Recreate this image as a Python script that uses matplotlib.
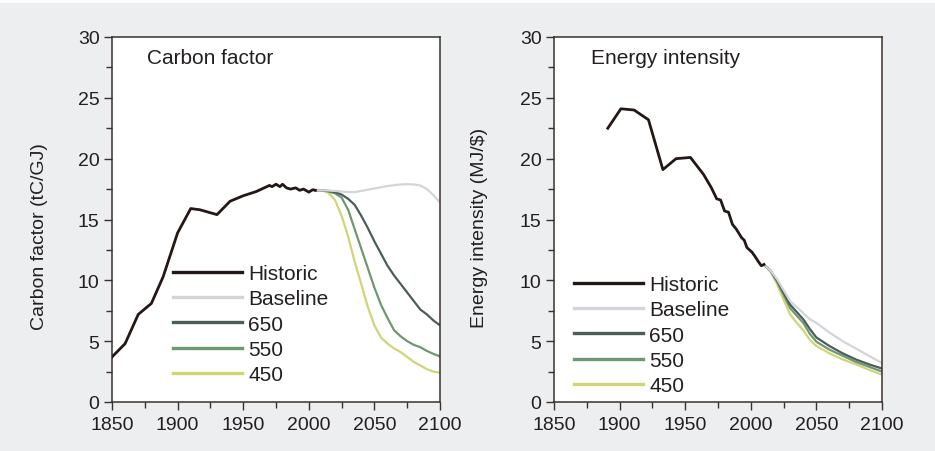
import matplotlib.pyplot as plt
import matplotlib.patches as mpatches
from matplotlib.ticker import MultipleLocator

plt.rcParams['font.family'] = ['Liberation Sans', 'DejaVu Sans']

# Carbon factor (tC/GJ)
cf_hist_years = [1850, 1860, 1870, 1880, 1889, 1900, 1910, 1917, 1930, 1940, 1950, 1960,
                 1970, 1972, 1975, 1978, 1980, 1983, 1986, 1990, 1993, 1996, 2000, 2003, 2005]
cf_hist = [3.7, 4.8, 7.2, 8.1, 10.3, 13.9, 15.9, 15.8, 15.4, 16.5, 16.95, 17.3,
           17.8, 17.7, 17.9, 17.7, 17.9, 17.6, 17.5, 17.6, 17.4, 17.5, 17.25, 17.45, 17.4]
cf_scen_years = [2005, 2010, 2015, 2020, 2025, 2030, 2035, 2040, 2045, 2050, 2055, 2060,
                 2065, 2070, 2075, 2080, 2085, 2090, 2095, 2100]
cf_baseline = [17.4, 17.4, 17.38, 17.35, 17.3, 17.25, 17.25, 17.35, 17.45, 17.55, 17.65, 17.75,
               17.82, 17.88, 17.9, 17.88, 17.8, 17.5, 17.0, 16.4]
cf_650 = [17.4, 17.4, 17.35, 17.25, 17.05, 16.7, 16.2, 15.3, 14.3, 13.2, 12.2, 11.2,
          10.4, 9.7, 9.0, 8.3, 7.6, 7.2, 6.7, 6.3]
cf_550 = [17.4, 17.4, 17.3, 17.15, 16.8, 15.8, 14.2, 12.6, 11.0, 9.4, 8.0, 6.9,
          5.9, 5.4, 5.0, 4.7, 4.5, 4.2, 3.95, 3.75]
cf_450 = [17.4, 17.4, 17.2, 16.6, 15.3, 13.6, 11.5, 9.7, 7.8, 6.3, 5.3, 4.8,
          4.4, 4.1, 3.7, 3.3, 3.0, 2.7, 2.5, 2.4]

# Energy intensity (MJ/$)
ei_hist_years = [1891, 1901, 1911, 1922, 1933, 1943, 1954, 1964, 1970, 1974, 1977, 1980,
                 1983, 1986, 1989, 1993, 1995, 1997, 2001, 2003, 2006, 2008, 2010]
ei_hist = [22.5, 24.1, 24.0, 23.2, 19.1, 20.0, 20.1, 18.7, 17.6, 16.7, 16.6, 15.7,
           15.6, 14.6, 14.2, 13.5, 13.3, 12.7, 12.3, 12.0, 11.5, 11.2, 11.3]
ei_scen_years = [2010, 2015, 2020, 2025, 2030, 2035, 2040, 2045, 2050, 2060, 2070, 2080, 2090, 2100]
ei_baseline = [11.3, 10.8, 10.1, 9.2, 8.3, 7.8, 7.3, 6.8, 6.5, 5.7, 5.0, 4.4, 3.8, 3.2]
ei_650 = [11.3, 10.8, 10.0, 9.0, 8.0, 7.4, 6.8, 6.0, 5.3, 4.6, 4.0, 3.5, 3.1, 2.75]
ei_550 = [11.3, 10.8, 9.9, 8.8, 7.7, 7.1, 6.5, 5.6, 4.95, 4.3, 3.8, 3.3, 2.9, 2.5]
ei_450 = [11.3, 10.7, 9.7, 8.4, 7.2, 6.5, 5.9, 5.1, 4.6, 4.0, 3.5, 3.1, 2.65, 2.25]

series_labels = ['Historic', 'Baseline', '650', '550', '450']
series_colors = ['#231815', '#d3d5db', '#4d5d59', '#6f9870', '#d0d677']
series_widths = [2.0, 1.6, 1.6, 1.6, 1.6]

bg = '#eceef0'
ink = '#231f20'

fig = plt.figure(figsize=(9.35, 4.52), dpi=100, facecolor=bg)
fig.patches.append(mpatches.Rectangle((0, 1 - 4 / 452), 1, 4 / 452, transform=fig.transFigure,
                                      facecolor='white', edgecolor='none', zorder=-1))

ax1 = fig.add_axes([112 / 935, 1 - 403 / 452, 328 / 935, 365 / 452])
ax2 = fig.add_axes([554 / 935, 1 - 403 / 452, 328 / 935, 365 / 452])

panels = [
    (ax1, cf_hist_years, cf_hist, cf_scen_years, [cf_baseline, cf_650, cf_550, cf_450],
     'Carbon factor', 'Carbon factor (tC/GJ)', (0.186, 0.049), (-0.195, 0.455), 0.107),
    (ax2, ei_hist_years, ei_hist, ei_scen_years, [ei_baseline, ei_650, ei_550, ei_450],
     'Energy intensity', 'Energy intensity (MJ/$)', (0.061, 0.019), (-0.200, 0.48), 0.113),
]

for (ax, hy, hv, sy, scen, title, ylabel, leg_pos, lab_pos, title_x) in panels:
    for (vals, lab, col, lw) in reversed(list(zip(scen, series_labels[1:], series_colors[1:], series_widths[1:]))):
        ax.plot(sy, vals, color=col, linewidth=lw, label=lab)
    ax.plot(hy, hv, color=series_colors[0], linewidth=series_widths[0], label='Historic', zorder=5)
    h, l = ax.get_legend_handles_labels()
    order = [l.index(s) for s in series_labels]
    leg = ax.legend([h[i] for i in order], [l[i] for i in order], loc='lower left', bbox_to_anchor=leg_pos,
                    frameon=False, fontsize=15, handlelength=3.3, handletextpad=0.3, labelspacing=0.3,
                    borderpad=0, borderaxespad=0)
    for t in leg.get_texts():
        t.set_color(ink)
    for lh in leg.get_lines():
        lh.set_linewidth(2.4)
    ax.set_xlim(1850, 2100)
    ax.set_ylim(0, 30)
    ax.xaxis.set_major_locator(MultipleLocator(50))
    ax.xaxis.set_minor_locator(MultipleLocator(25))
    ax.yaxis.set_major_locator(MultipleLocator(5))
    ax.yaxis.set_minor_locator(MultipleLocator(2.5))
    ax.tick_params(axis='both', which='major', direction='out', length=6, width=1.0, color='#3a302c',
                   labelsize=14, labelcolor=ink, pad=3)
    ax.tick_params(axis='both', which='minor', direction='out', length=4, width=1.0, color='#3a302c')
    ax.tick_params(axis='x', which='major', pad=4)
    for sp in ax.spines.values():
        sp.set_color('#3a302c')
        sp.set_linewidth(1.1)
    ax.set_facecolor('white')
    ax.text(title_x, 0.943, title, transform=ax.transAxes, fontsize=15, color=ink, va='center', ha='left')
    ax.set_ylabel(ylabel, fontsize=14, color=ink)
    ax.yaxis.set_label_coords(*lab_pos)

plt.savefig('out.png', dpi=100, facecolor=bg)
plt.close()
print('Saved: out.png')
